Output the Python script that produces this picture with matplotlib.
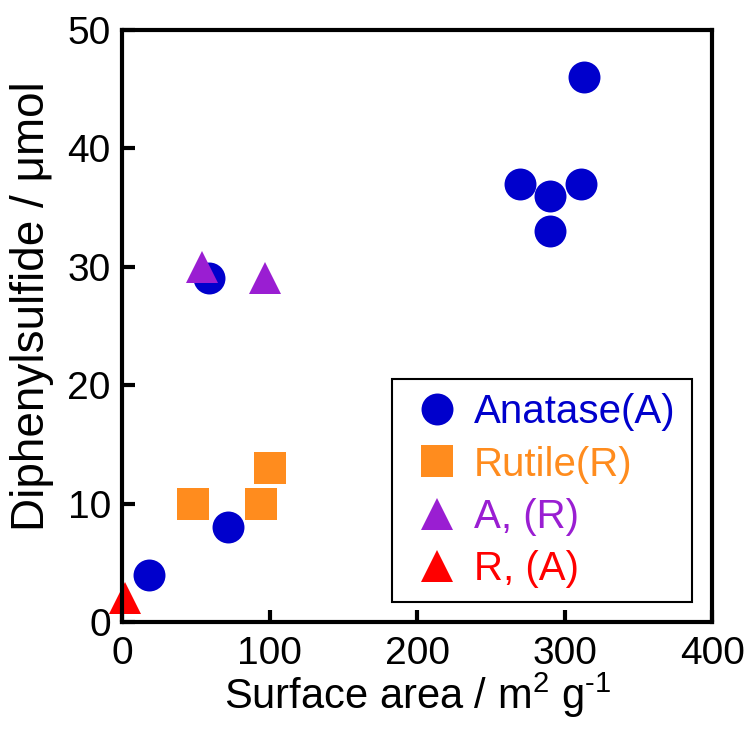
import matplotlib

matplotlib.use("Agg")

import matplotlib.pyplot as plt

plt.rcParams["font.family"] = ["Liberation Sans", "DejaVu Sans"]
plt.rcParams["mathtext.fontset"] = "custom"
plt.rcParams["mathtext.rm"] = "Liberation Sans"

# surface area (m2/g) vs diphenylsulfide (umol)
anatase_x = [18, 72, 59, 270, 290, 290, 311, 313]
anatase_y = [4, 8, 29, 37, 36, 33, 37, 46]
rutile_x = [48, 94, 100]
rutile_y = [10, 10, 13]
a_r_x = [54, 97]
a_r_y = [30, 29]
r_a_x = [2]
r_a_y = [2]

series = [
    ("Anatase(A)", anatase_x, anatase_y, "o", "#0000CC"),
    ("Rutile(R)", rutile_x, rutile_y, "s", "#FF8C1E"),
    ("A, (R)", a_r_x, a_r_y, "^", "#9A1ED2"),
    ("R, (A)", r_a_x, r_a_y, "^", "#FF0000"),
]

fig = plt.figure(figsize=(7.53, 7.44), dpi=100)
ax = fig.add_axes([0.162, 0.164, 0.784, 0.796])

for label, xs, ys, marker, color in series:
    ax.plot(xs, ys, linestyle="none", marker=marker, markersize=23,
            color=color, markeredgewidth=0, label=label, clip_on=False)

ax.set_xlim(0, 400)
ax.set_ylim(0, 50)
ax.set_xticks([0, 100, 200, 300, 400])
ax.set_yticks([0, 10, 20, 30, 40, 50])
for side in ax.spines.values():
    side.set_linewidth(3)
ax.tick_params(direction="in", length=9, width=3, labelsize=28)
ax.tick_params(axis="y", pad=8)
ax.tick_params(axis="x", pad=10)

ax.set_xlabel("Surface area / m$^\\mathregular{2}$ g$^\\mathregular{\u20101}$", fontsize=30, labelpad=-1)
ax.set_ylabel("Diphenylsulfide / μmol", fontsize=33)
ax.yaxis.set_label_coords(-0.115, 0.534)

leg = ax.legend(loc="lower left", bbox_to_anchor=(0.458, 0.034, 0.508, 0.378),
                mode="expand", borderaxespad=0, fontsize=29, fancybox=False,
                framealpha=1, edgecolor="black", borderpad=0.35,
                labelspacing=0.35, handletextpad=0.17, handlelength=1.5)
leg.get_frame().set_linewidth(1.5)
for text, (_, _, _, _, color) in zip(leg.get_texts(), series):
    text.set_color(color)

fig.savefig("out.png", dpi=100)
